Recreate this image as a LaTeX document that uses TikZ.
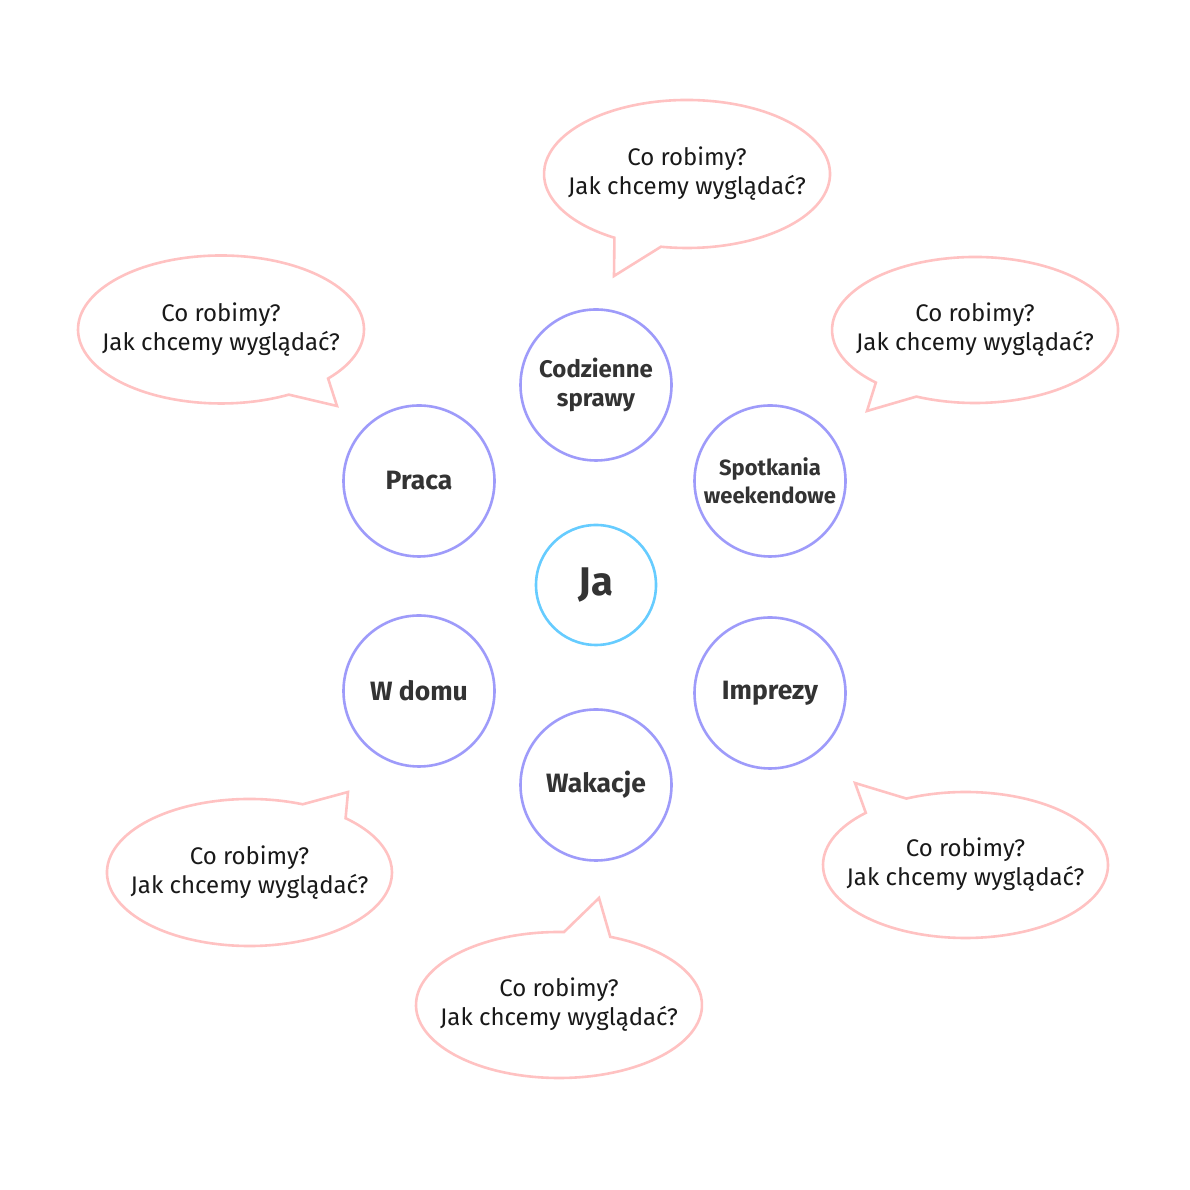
\documentclass[tikz,border=0pt]{standalone}
\usepackage{fontspec}
\setmainfont{Fira Sans}
\usetikzlibrary{calc}
\definecolor{ringPurple}{HTML}{9E9BFA}
\definecolor{ringBlue}{HTML}{66CCFF}
\definecolor{bubblePink}{HTML}{FFC2C2}
\definecolor{labelGrey}{HTML}{333333}

\begin{document}
\begin{tikzpicture}[x=1pt, y=1pt,
  topic/.style={circle, draw=ringPurple, line width=2.6pt, minimum size=151pt,
                inner sep=0pt, align=center, text=labelGrey,
                font=\fontsize{26.5}{29}\selectfont\bfseries},
  me/.style={circle, draw=ringBlue, line width=2.6pt, minimum size=120pt,
             inner sep=0pt, text=labelGrey, font=\fontsize{40}{44}\selectfont\bfseries},
  bubble/.style={draw=bubblePink, line width=2.6pt},
  question/.style={align=center, text=black!90, font=\fontsize{24}{29}\selectfont}]
  \fill[white] (0,0) rectangle (1190,1190);
  \useasboundingbox (0,0) rectangle (1190,1190);
  % centre and topics
  \node[me] (me) at (596,605) {Ja};
  \node[topic, font=\fontsize{24}{29}\selectfont\bfseries]
               (daily)   at (596,805) {Codzienne\\sprawy};
  \node[topic, font=\fontsize{22}{28}\selectfont\bfseries]
               (weekend) at (770,709) {Spotkania\\weekendowe};
  \node[topic] (work)    at (419,709) {Praca};
  \node[topic] (home)    at (419,499) {W domu};
  \node[topic] (party)   at (770,497) {Imprezy};
  \node[topic] (holiday) at (596,405) {Wakacje};
  % speech bubbles (centre, tail tip)
  \coordinate (cT)  at (687,1016);   \coordinate (tT)  at (614,914);
  \coordinate (cTL) at (221,860.5);  \coordinate (tTL) at (337,784);
  \coordinate (cTR) at (975,860);    \coordinate (tTR) at (867,779);
  \coordinate (cBL) at (249.5,317.5);\coordinate (tBL) at (348,398);
  \coordinate (cBC) at (559,185);    \coordinate (tBC) at (599,292);
  \coordinate (cBR) at (965.5,325);  \coordinate (tBR) at (855,407);
  \draw[bubble] ($(cT)+(259.5:143pt and 74pt)$)
    arc[start angle=259.5, end angle=599.5, x radius=143pt, y radius=74pt]
    -- (tT) -- cycle;
  \draw[bubble] ($(cTL)+(318.5:143pt and 74pt)$)
    arc[start angle=318.5, end angle=658.3, x radius=143pt, y radius=74pt]
    -- (tTL) -- cycle;
  \draw[bubble] ($(cTR)+(245.8:143pt and 73pt)$)
    arc[start angle=245.8, end angle=586.1, x radius=143pt, y radius=73pt]
    -- (tTR) -- cycle;
  \draw[bubble] ($(cBL)+(68.1:142.5pt and 73.5pt)$)
    arc[start angle=68.1, end angle=407.6, x radius=142.5pt, y radius=73.5pt]
    -- (tBL) -- cycle;
  \draw[bubble] ($(cBC)+(88:143pt and 73pt)$)
    arc[start angle=88, end angle=429, x radius=143pt, y radius=73pt]
    -- (tBC) -- cycle;
  \draw[bubble] ($(cBR)+(134.4:142.5pt and 73pt)$)
    arc[start angle=134.4, end angle=474.5, x radius=142.5pt, y radius=73pt]
    -- (tBR) -- cycle;
  \node[question] (qT)  at (cT)  {Co robimy?\\Jak chcemy wyglądać?};
  \node[question] (qTL) at (cTL) {Co robimy?\\Jak chcemy wyglądać?};
  \node[question] (qTR) at (cTR) {Co robimy?\\Jak chcemy wyglądać?};
  \node[question] (qBL) at (cBL) {Co robimy?\\Jak chcemy wyglądać?};
  \node[question] (qBC) at (cBC) {Co robimy?\\Jak chcemy wyglądać?};
  \node[question] (qBR) at (cBR) {Co robimy?\\Jak chcemy wyglądać?};
\end{tikzpicture}
\end{document}
